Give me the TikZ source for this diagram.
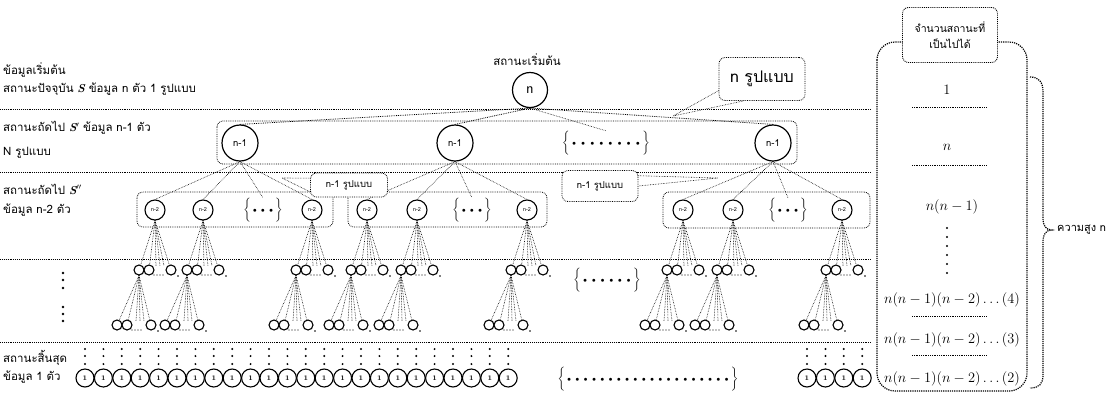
\documentclass[tikz,border=0pt]{standalone}
\usepackage{fontspec}
\newfontfamily\thai[Script=Thai]{Loma}
\newcommand\bd[1]{\kern#1{\scriptstyle\bullet}\kern#1}
\newcommand\bS{{\normalfont\bfseries\itshape S}}
\tikzset{
  hl/.style={densely dotted, line width=0.9pt},
  ed/.style={densely dotted, line width=0.6pt},
  cir/.style={circle, draw, fill=white, inner sep=0pt, line width=1.2pt},
  cz/.style={cir, minimum size=35pt, font=\sffamily\fontsize{15}{15}\selectfont},
  co/.style={cir, minimum size=36pt, font=\thai\fontsize{9.5}{9.5}\selectfont},
  cth/.style={cir, minimum size=20pt, line width=1.1pt, font=\thai\fontsize{5.5}{5.5}\selectfont},
  ck/.style={cir, minimum size=10pt, line width=1.1pt},
  ct/.style={cir, minimum size=18pt, line width=1.1pt, font=\bfseries\fontsize{7}{7}\selectfont},
  grp/.style={draw, densely dotted, rounded corners=6pt, line width=0.8pt},
  lab/.style={anchor=west, inner sep=0pt, font=\thai\fontsize{11.5}{12}\selectfont},
  call/.style={draw, densely dotted, rounded corners=6pt, line width=0.8pt, fill=white, inner sep=0pt},
  val/.style={inner sep=0pt, font=\fontsize{14}{14}\selectfont},
  brc/.style={inner sep=0pt, font=\fontsize{10}{10}\selectfont},
  dotf/.style={fill=black},
}
\begin{document}
\begin{tikzpicture}[x=1pt,y=-1pt]
\useasboundingbox (0,0) rectangle (1118,400);
% separator lines
\foreach \yy in {109,172,259,342} \draw[hl] (0,\yy) -- (872,\yy);
% left labels
\node[lab] (t1) at (3,70) {ข้อมูลเริ่มต้น};
\node[lab] (t2) at (3,89) {สถานะปัจจุบัน \bS\ ข้อมูล n ตัว 1 รูปแบบ};
\node[lab] (t3) at (3,128) {สถานะถัดไป \bS$'$ ข้อมูล n-1 ตัว};
\node[lab] (t4) at (3,153) {N รูปแบบ};
\node[lab] (t5) at (3,189) {สถานะถัดไป \bS$''$};
\node[lab] (t6) at (3,210) {ข้อมูล n-2 ตัว};
\node[lab] (t7) at (3,358) {สถานะสิ้นสุด};
\node[lab] (t8) at (3,377) {ข้อมูล 1 ตัว};
\foreach \yy in {273,280,288,307,314,321} \fill[dotf] (63,\yy) circle (1.3);
% group boxes
\draw[grp] (217,121) rectangle (797,164);
\draw[grp] (137,192) rectangle (333,227);
\draw[grp] (348,192) rectangle (547,227);
\draw[grp] (663,192) rectangle (870,228);
% root
\node[font=\thai\fontsize{11.5}{12}\selectfont] (Rl) at (527,60) {สถานะเริ่มต้น};
\node[cz] (R) at (530,90) {n};
% level 1
\node[co] (A) at (240,143) {n-1};
\node[co] (B) at (455,143) {n-1};
\node[co] (C) at (773,143) {n-1};
\node[brc] (D) at (606,143) {$\biggl\{\bd{2.5pt}\bd{2.5pt}\bd{2.5pt}\bd{2.5pt}\bd{2.5pt}\bd{2.5pt}\bd{2.5pt}\bd{2.5pt}\biggr\}$};
\foreach \t in {A,B,C} \draw[ed, line width=0.8pt] (R.south) -- (\t.north);
\draw[ed] (R.south) -- (D.north);
% level 3
\foreach \xx [count=\i] in {155,203,312,367,417,527,683,733,842} {
  \node[cth] (n\i) at (\xx,210) {n-2};
  \node[ck] (ka\i) at (\xx-16,270) {};
  \node[ck] (kb\i) at (\xx-6,270) {};
  \node[ck] (kc\i) at (\xx+16,270) {};
  \coordinate (g1\i) at (\xx+1,266);
  \coordinate (g2\i) at (\xx+5,266);
  \coordinate (g3\i) at (\xx+9,266);
  \foreach \k in {ka\i,kb\i,kc\i,g1\i,g2\i,g3\i} \draw[ed] (n\i.south) -- (\k);
  \foreach \d in {-1,2,5,8} \fill[dotf] (\xx+\d,275) circle (0.7);
  \fill[dotf] (\xx+23,276) circle (0.8);
  \node[ck] (ma\i) at (\xx-38,325) {};
  \node[ck] (mb\i) at (\xx-28,325) {};
  \node[ck] (mc\i) at (\xx-4,325) {};
  \coordinate (h1\i) at (\xx-19,321);
  \coordinate (h2\i) at (\xx-15,321);
  \coordinate (h3\i) at (\xx-11,321);
  \foreach \k in {ma\i,mb\i,mc\i,h1\i,h2\i,h3\i} \draw[ed] (ka\i.south) -- (\k);
  \foreach \d in {-23,-20,-17,-14} \fill[dotf] (\xx+\d,330) circle (0.7);
  \fill[dotf] (\xx+3,331) circle (0.8);
}
\node[brc] (Ea) at (263,210) {$\biggl\{\bd{2pt}\bd{2pt}\bd{2pt}\biggr\}$};
\node[brc] (Eb) at (472,210) {$\biggl\{\bd{2pt}\bd{2pt}\bd{2pt}\biggr\}$};
\node[brc] (Ec) at (788,210) {$\biggl\{\bd{2pt}\bd{2pt}\bd{2pt}\biggr\}$};
\foreach \t in {n1,n2,n3,Ea} \draw[ed] (A.south) -- (\t.north);
\foreach \t in {n4,n5,n6,Eb} \draw[ed] (B.south) -- (\t.north);
\foreach \t in {n7,n8,n9,Ec} \draw[ed] (C.south) -- (\t.north);
% middle dots
\node[brc] (F) at (607,280) {$\biggl\{\bd{2.3pt}\bd{2.3pt}\bd{2.3pt}\bd{2.3pt}\bd{2.3pt}\bd{2.3pt}\biggr\}$};
% terminal row
\foreach \i in {0,...,23} {
  \node[ct] (T\i) at (85+18.4*\i,378) {1};
  \foreach \yy in {349,356,364} \fill[dotf] (85+18.4*\i,\yy) circle (1.1);
}
\foreach \i in {0,...,3} {
  \node[ct] (U\i) at (807+18.4*\i,378) {1};
  \foreach \yy in {349,356,364} \fill[dotf] (807+18.4*\i,\yy) circle (1.1);
}
\node[brc] (G) at (648,379) {$\biggl\{\bd{2.1pt}\bd{2.1pt}\bd{2.1pt}\bd{2.1pt}\bd{2.1pt}\bd{2.1pt}\bd{2.1pt}\bd{2.1pt}\bd{2.1pt}\bd{2.1pt}\bd{2.1pt}\bd{2.1pt}\bd{2.1pt}\bd{2.1pt}\bd{2.1pt}\bd{2.1pt}\bd{2.1pt}\bd{2.1pt}\bd{2.1pt}\bd{2.1pt}\biggr\}$};
% callouts
\node[call, minimum width=86pt, minimum height=43pt, font=\thai\fontsize{16}{16}\selectfont] (C0) at (762,79) {n รูปแบบ};
\coordinate (p0) at (673,116);
\draw[ed] (C0.195) -- (p0) -- (C0.230);
\node[call, minimum width=77pt, minimum height=24pt, font=\thai\fontsize{9.5}{10}\selectfont] (C1) at (349,185) {n-1 รูปแบบ};
\coordinate (p1) at (282,178);
\draw[ed] (C1.170) -- (p1) -- (C1.190);
\node[call, minimum width=76pt, minimum height=31pt, font=\thai\fontsize{9.5}{10}\selectfont] (C2) at (600,186) {n-1 รูปแบบ};
\coordinate (p2) at (718,178);
\draw[ed] (C2.15) -- (p2) -- (C2.0);
% right column
\draw[grp, rounded corners=18pt, line width=1.2pt] (877,42) rectangle (1027,391);
\node[call, line width=0.9pt, minimum width=95pt, minimum height=55pt, align=center, font=\thai\fontsize{10.5}{16}\selectfont] (H) at (950,35) {จำนวนสถานะที่\\เป็นไปได้};
\node[val] (V1) at (947,90) {$1$};
\node[val] (V2) at (947,147) {$n$};
\node[val] (V3) at (952,207) {$n(n-1)$};
\node[val] (V4) at (952,300) {$n(n-1)(n-2)\ldots(4)$};
\node[val] (V5) at (952,340) {$n(n-1)(n-2)\ldots(3)$};
\node[val] (V6) at (952,379) {$n(n-1)(n-2)\ldots(2)$};
\foreach \yy in {107,165,316,355} \draw[hl, line width=0.8pt] (912,\yy) -- (986,\yy);
\foreach \yy in {228,237,246,255,264,273} \fill[dotf] (947,\yy) circle (1.2);
% brace
\draw[ed, line width=1.2pt] (1030,77) .. controls (1039,77) and (1043,82) .. (1043,92) -- (1043,218) .. controls (1043,226) and (1046,230) .. (1052,230) .. controls (1046,230) and (1043,234) .. (1043,242) -- (1043,375) .. controls (1043,384) and (1039,388) .. (1030,388);
\node[lab, font=\thai\fontsize{11}{12}\selectfont] (K) at (1057,230) {ความสูง n};
\end{tikzpicture}
\end{document}
